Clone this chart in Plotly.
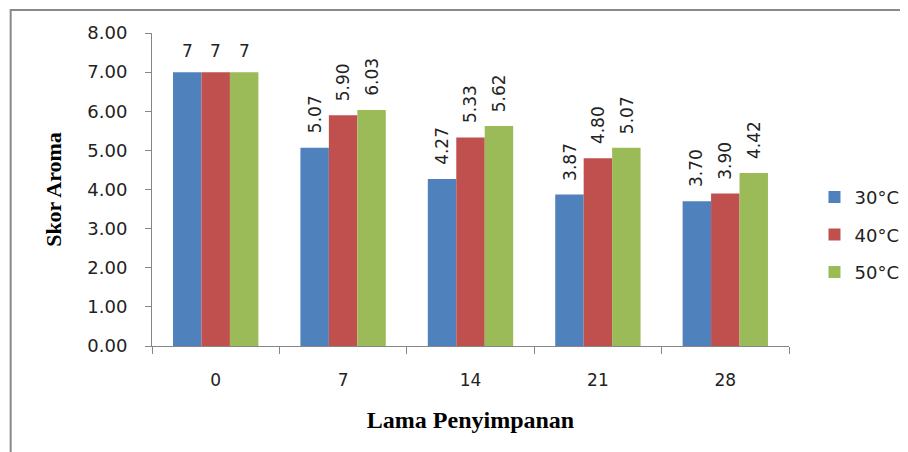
import plotly.graph_objects as go

categories = ["0", "7", "14", "21", "28"]
series_names = ["30°C", "40°C", "50°C"]
values_30 = [7, 5.07, 4.27, 3.87, 3.70]
values_40 = [7, 5.90, 5.33, 4.80, 3.90]
values_50 = [7, 6.03, 5.62, 5.07, 4.42]
labels_30 = ["7", "5.07", "4.27", "3.87", "3.70"]
labels_40 = ["7", "5.90", "5.33", "4.80", "3.90"]
labels_50 = ["7", "6.03", "5.62", "5.07", "4.42"]
y_ticks = [0, 1, 2, 3, 4, 5, 6, 7, 8]

colors = ["#4F81BD", "#C0504D", "#9BBB59"]
all_values = [values_30, values_40, values_50]
all_labels = [labels_30, labels_40, labels_50]

# page body adds an 8px offset; margins compensate
W, H = 908, 452
L, R, T, B = 144, 124, 25, 114
plot_w = W - L - R
plot_h = H - T - B

fig = go.Figure()
for i, (name, vals) in enumerate(zip(series_names, all_values)):
    fig.add_trace(go.Bar(
        x=categories, y=vals, name=name,
        marker=dict(color=colors[i], line=dict(width=0)),
        legendgroup=name,
    ))

font_num = "DejaVu Sans"
bar_px = plot_w / len(categories) * (1 - 0.33) / 3

annotations = []
for i, labs in enumerate(all_labels):
    for j, lab in enumerate(labs):
        rotated = lab != "7"
        annotations.append(dict(
            x=j, y=all_values[i][j], xref="x", yref="y",
            text=lab, showarrow=False,
            textangle=-90 if rotated else 0,
            xanchor="center", yanchor="bottom",
            xshift=(i - 1) * bar_px, yshift=12 if rotated else 9,
            font=dict(family=font_num, size=17, color="#222222"),
        ))

fig.update_layout(
    width=W, height=H,
    margin=dict(l=L, r=R, t=T, b=B, pad=0),
    paper_bgcolor="white", plot_bgcolor="white",
    bargap=0.33, bargroupgap=0,
    annotations=annotations,
    legend=dict(
        x=1.04, y=0.355, xanchor="left", yanchor="middle",
        font=dict(family=font_num, size=18, color="#222222"),
        tracegroupgap=11, traceorder="grouped",
        bgcolor="rgba(0,0,0,0)",
    ),
    xaxis=dict(
        type="category", range=[-0.5, len(categories) - 0.5], autorange=False,
        showline=True, linecolor="#868686", linewidth=1,
        ticks="outside", tickson="boundaries", ticklen=7, tickcolor="#868686",
        tickfont=dict(family=font_num, size=17, color="#222222"),
        tickangle=0,
        ticklabelstandoff=19,
        showgrid=False, zeroline=False,
        title=dict(text="Lama Penyimpanan", standoff=21,
                   font=dict(family="Liberation Serif", size=24, color="black", weight="bold")),
    ),
    yaxis=dict(
        range=[0, 8], autorange=False, tickvals=y_ticks, tickformat=".2f",
        showline=True, linecolor="#868686", linewidth=1,
        ticks="outside", ticklen=6, tickcolor="#868686",
        tickfont=dict(family=font_num, size=18, color="#222222"),
        ticklabelstandoff=14,
        showgrid=False, zeroline=False,
        title=dict(text="Skor Aroma", standoff=19,
                   font=dict(family="Liberation Serif", size=22, color="black", weight="bold")),
    ),
    shapes=[dict(
        type="rect", xref="paper", yref="paper",
        x0=(2 - L) / plot_w, x1=(930 - L) / plot_w,
        y0=(H - B - 480) / plot_h, y1=(H - B - 2) / plot_h,
        line=dict(color="#898989", width=2), fillcolor="rgba(0,0,0,0)",
        layer="below",
    )],
)

fig.write_html("out.html")
